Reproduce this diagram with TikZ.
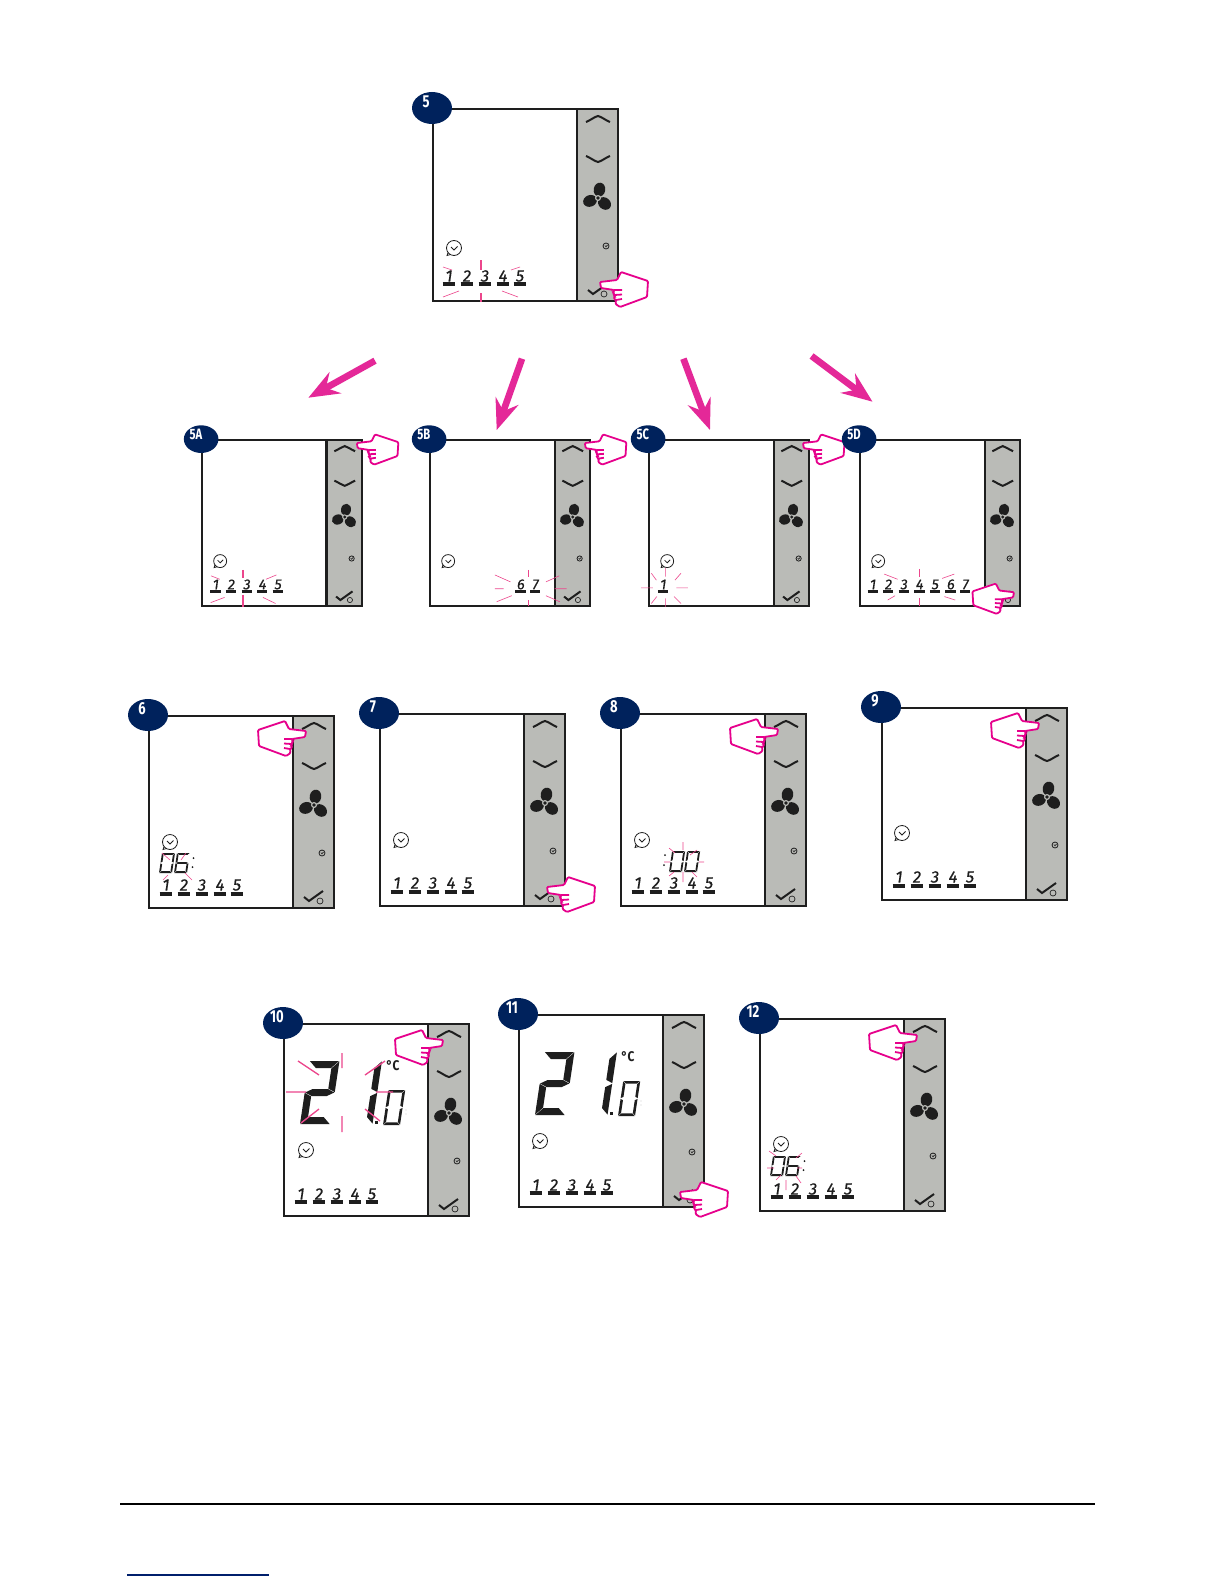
\documentclass[tikz,border=0pt]{standalone}
\usepackage{fontspec}
\setmainfont{Fira Sans}
\newfontfamily\dayfont[ItalicFont={Fira Sans Italic},ItalicFeatures={FakeBold=0.4}]{Fira Sans}
\usetikzlibrary{arrows.meta}
\definecolor{navyb}{RGB}{0,34,92}
\definecolor{side}{RGB}{186,187,183}
\definecolor{ink}{RGB}{30,30,30}
\definecolor{pinkm}{RGB}{230,0,140}
\definecolor{arrowpink}{RGB}{228,40,152}
\definecolor{rayc}{RGB}{236,70,140}
\tikzset{
  frame/.style={draw=ink,line width=1.6pt,fill=white},
  sidebar/.style={draw=ink,line width=1.6pt,fill=side},
  chev/.style={draw=ink,line width=1.5pt},
  thinicon/.style={draw=ink,line width=.45pt},
  badge/.style={fill=navyb},
  badgetext/.style={text=white,font=\bfseries\fontsize{13}{13}\selectfont,inner sep=0pt,transform shape,xscale=.75},
  daytext/.style={text=ink,font=\dayfont\itshape\fontsize{12.5}{13}\selectfont,inner sep=0pt,transform shape},
  dayline/.style={draw=ink,line width=2.4pt},
  ray/.style={draw=rayc,line width=.45pt},
  rayb/.style={draw=rayc,line width=1pt},
  handline/.style={draw=pinkm,line width=1.35pt,fill=white,line join=miter},
  flowarrow/.style={draw=arrowpink,line width=5pt,-{Stealth[length=23pt,width=18pt,inset=8pt]}},
  bigseg/.style={fill=ink},
  smallseg/.style={fill=ink},
}
% seven segment pieces
\def\segA{\path[\dsty] (\dg,-\dh)--(\dw-\dg,-\dh)--(\dw-\dt-\dg,-\dh+\dt)--(\dt+\dg,-\dh+\dt)--cycle;}
\def\segD{\path[\dsty] (\dg,0)--(\dw-\dg,0)--(\dw-\dt-\dg,-\dt)--(\dt+\dg,-\dt)--cycle;}
\def\segG{\path[\dsty] (\dg,-.5*\dh)--(\dt+\dg,-.5*\dh-.5*\dt)--(\dw-\dt-\dg,-.5*\dh-.5*\dt)--(\dw-\dg,-.5*\dh)--(\dw-\dt-\dg,-.5*\dh+.5*\dt)--(\dt+\dg,-.5*\dh+.5*\dt)--cycle;}
\def\segF{\path[\dsty] (0,-\dh+\dg)--(\dt,-\dh+\dt+\dg)--(\dt,-.5*\dh-.5*\dt-\dg)--(0,-.5*\dh-\dg)--cycle;}
\def\segE{\path[\dsty] (0,-\dg)--(\dt,-\dt-\dg)--(\dt,-.5*\dh+.5*\dt+\dg)--(0,-.5*\dh+\dg)--cycle;}
\def\segB{\path[\dsty] (\dw,-\dh+\dg)--(\dw-\dt,-\dh+\dt+\dg)--(\dw-\dt,-.5*\dh-.5*\dt-\dg)--(\dw,-.5*\dh-\dg)--cycle;}
\def\segC{\path[\dsty] (\dw,-\dg)--(\dw-\dt,-\dt-\dg)--(\dw-\dt,-.5*\dh+.5*\dt+\dg)--(\dw,-.5*\dh+\dg)--cycle;}
% style,x,ybottom,w,h,t,segments
\newcommand{\dseven}[7]{%
  \begin{scope}[shift={(#2,#3)},xslant=.15]
    \def\dsty{#1}\def\dw{#4}\def\dh{#5}\def\dt{#6}\def\dg{.4}
    \foreach \sg in {#7}{\csname seg\sg\endcsname}
  \end{scope}}
% dir, x, y of the fingertip, in panel coordinates
\newcommand{\handat}[3]{%
  \begin{scope}[shift={(#2,#3)},xscale=#1]
    \path[handline,rounded corners=.8pt] (0,0)--(17,-2)--(21,-10)--(48,-1)--(47,15)--(20,25)--(15.5,22)--(16,18)--(14,17)--(14.5,13)--(13.5,12)--(14,8)--(1,6)--cycle;
    \draw[handline,fill=none] (14,8)--(22,8) (14.5,13)--(22,12.5) (16,18)--(22,17);
  \end{scope}}
\newcommand{\clockicon}[2]{%
  \begin{scope}[shift={(#1,#2)}]
    \draw[thinicon,line width=.6pt] (0,0) circle [radius=7.5];
    \draw[thinicon,line width=.6pt] (-3,-1)--(0,2)--(3.5,-1.5);
    \draw[thinicon,line width=.6pt] (-6,4.5)--(-7,7.5)--(-3.5,6.5);
  \end{scope}}
\newcommand{\dayrow}[3]{%
  \edef\daylist{#3}%
  \foreach \xx/\ll in \daylist{%
    \node[daytext] (\pid-d\ll) at (\xx,#1) {\ll};
    \draw[dayline] (\xx-6.3,#2)--(\xx+5.7,#2);
  }}
% id, x, y, scale, label, extra contents
\newcommand{\panel}[6]{%
  \begin{scope}[shift={(#2,#3)},scale=#4]
    \def\pid{#1}
    \path[frame] (0,0) rectangle (185,192);
    \path[sidebar] (144,0) rectangle (185,192);
    \draw[chev] (153,13) .. controls (158,11) and (161,8) .. (165,7) .. controls (169,8) and (172,11) .. (177,13);
    \draw[chev] (153,47) .. controls (158,49) and (161,52) .. (165,53) .. controls (169,52) and (172,49) .. (177,47);
    \begin{scope}[shift={(165,89)}]
      \foreach \aa in {80,200,320}{\fill[ink,rotate=\aa] (8.5,0) ellipse [x radius=7,y radius=5.8];}
      \fill[side] (0,0) circle [radius=3];
      \fill[ink] (0,0) circle [radius=1.9];
    \end{scope}
    \draw[thinicon,line width=.6pt] (173,137) circle [radius=3];
    \draw[thinicon,line width=.5pt] (171.8,136.5)--(173,137.8)--(174.5,136);
    \draw[ink,line width=1.5pt] (155,181)--(160,185)--(174,175);
    \draw[thinicon,line width=.5pt] (171,185) circle [radius=3];
    \fill[badge] (-1,-1) ellipse [x radius=20,y radius=16];
    \node[badgetext] (#1-label) at (-7,-7) {#5};
    #6
  \end{scope}}
\newcommand{\sixclock}{%
  \dseven{smallseg}{10}{157}{13}{20}{1.8}{A,B,C,D,E,F}
  \dseven{smallseg}{25}{157}{13}{20}{1.8}{A,F,G,E,D,C}
  \fill[ink] (44.5,142) circle [radius=1] (43.5,151) circle [radius=1];}
\newcommand{\bigtemp}{%
  \dseven{bigseg}{16}{100}{30}{63}{7}{A,B,G,E,D}
  \dseven{bigseg}{82}{100}{6.5}{63}{6.5}{B,C}
  \fill[ink] (91,97) rectangle (94,100);
  \dseven{smallseg}{99}{101}{17}{35}{2.6}{A,B,C,D,E,F}
  \fill[ink!60] (122,86) circle [radius=.4] (122,90) circle [radius=.4];
  \node[text=ink,inner sep=0pt,transform shape,font=\bfseries\fontsize{10.5}{11}\selectfont,xscale=.85] (\pid-unit) at (109,42) {\textdegree C};}
\def\five{17/1,35/2,53/3,71/4,88/5}
\begin{document}
\begin{tikzpicture}[x=.75pt,y=-.75pt]
\useasboundingbox (0,0) rectangle (1224,1584);
\fill[white] (0,0) rectangle (1224,1584);

\panel{p5}{433}{109}{1}{5}{%
  \clockicon{21}{139}
  \dayrow{167}{175}{16/1,34/2,52/3,70/4,87/5}
  \draw[rayb] (48,151)--(48,161) (48,184)--(48,193);
  \draw[ray] (10,158)--(19,161) (78,161)--(87,158) (10,188)--(26,182) (69,182)--(85,188);
  \handat{1}{167}{173}}

\panel{p5A}{202}{440}{.865}{5A}{%
  \clockicon{21}{140}
  \dayrow{167}{175}{16/1,34/2,52/3,70/4,88/5}
  \draw[rayb] (47.4,150)--(47.4,159) (47.4,179)--(47.4,193);
  \draw[ray] (10.4,157)--(20.4,161) (74,161)--(86,156) (10,188)--(26,182) (70.5,182)--(85,189);
  \handat{1}{179}{3.5}}

\panel{p5B}{430}{440}{.865}{5B}{%
  \clockicon{21}{140}
  \dayrow{167}{175}{105/6,122/7}
  \draw[rayb] (113.7,150)--(113.7,158) (113.7,185)--(113.7,192);
  \draw[ray] (75,156)--(93,164) (134,164)--(149.5,157) (75,172)--(85,172) (144,172)--(158,172) (77,187)--(94.5,180) (134,180)--(150,187);
  \handat{1}{179}{3.5}}

\panel{p5C}{649}{440}{.865}{5C}{%
  \clockicon{21}{140}
  \dayrow{167}{175}{16.5/1}
  \draw[ray] (19,148)--(19,158) (19,183)--(19,193) (2.7,154)--(8.5,162) (37,154)--(30,162) (-9,171)--(4.6,171) (31.6,171)--(45,171) (2.7,189)--(9,181) (37,189)--(29,181);
  \handat{1}{178}{3.5}}

\panel{p5D}{860}{440}{.865}{5D}{%
  \clockicon{21}{140}
  \dayrow{167}{175}{15/1,33/2,51/3,69/4,87/5,105/6,122/7}
  \draw[rayb] (69,149)--(69,158) (69,183)--(69,192);
  \draw[ray] (28,155)--(43.5,161) (32,185)--(40.5,180) (95,160)--(109,155) (97.5,181)--(110,185);
  \handat{-1}{178}{176}}

\panel{p6}{149}{716}{1}{6}{%
  \clockicon{21}{126}
  \sixclock
  \draw[ray] (13,137)--(21,144) (37,137)--(32,144) (36,157)--(43,164) (14,164)--(19,159);
  \dayrow{169}{178}{\five}
  \handat{-1}{157}{15}}

\panel{p7}{380}{714}{1}{7}{%
  \clockicon{21}{126}
  \dayrow{169}{178}{\five}
  \handat{1}{167}{173}}

\panel{p8}{621}{714}{1}{8}{%
  \clockicon{21}{126}
  \dseven{smallseg}{48}{158}{13}{21}{1.8}{A,B,C,D,E,F}
  \dseven{smallseg}{63}{158}{13}{21}{1.8}{A,B,C,D,E,F}
  \fill[ink] (44,141) circle [radius=1] (43,151) circle [radius=1];
  \draw[ray] (48,134)--(54,139) (62,128)--(62,136) (76,136)--(69,141) (43,148)--(49,148) (78,148)--(83,148) (48,162)--(53,158) (62,158)--(62,168) (71,158)--(76,163);
  \dayrow{169}{178}{\five}
  \handat{-1}{157}{15}}

\panel{p9}{882}{708}{1}{9}{%
  \clockicon{20}{125}
  \dayrow{169}{178}{\five}
  \handat{-1}{157}{15}}

\panel{p10}{284}{1024}{1}{10}{%
  \bigtemp
  \draw[rayb] (14,37)--(35,51) (58,29)--(58,44) (81,51)--(101,37) (2,68)--(22,68) (92,68)--(109,68) (17,99)--(35,85) (58,92)--(58,108) (81,85)--(96,97);
  \clockicon{22}{126}
  \dayrow{170}{178}{\five}
  \handat{-1}{159}{16}}

\panel{p11}{519}{1015}{1}{11}{%
  \bigtemp
  \clockicon{21}{126}
  \dayrow{170}{178}{\five}
  \handat{1}{161}{177}}

\panel{p12}{760}{1019}{1}{12}{%
  \clockicon{21}{125}
  \sixclock
  \draw[ray] (9,132)--(16,137) (42,134)--(36,139) (7,149)--(14,149) (37,149)--(42,149) (16,161)--(21,156) (36,157)--(41,164) (26,161)--(26,171);
  \dayrow{170}{178}{\five}
  \handat{-1}{157}{16}}

\coordinate (a1s) at (375,360.7); \coordinate (a1e) at (308.4,397.7);
\coordinate (a2s) at (522,358.7); \coordinate (a2e) at (496.7,430);
\coordinate (a3s) at (683.4,358.7); \coordinate (a3e) at (710,430);
\coordinate (a4s) at (811.6,356); \coordinate (a4e) at (872.5,401.7);
\draw[flowarrow] (a1s)--(a1e);
\draw[flowarrow] (a2s)--(a2e);
\draw[flowarrow] (a3s)--(a3e);
\draw[flowarrow] (a4s)--(a4e);

\coordinate (r1) at (120,1504); \coordinate (r2) at (1095,1504);
\coordinate (b1) at (127,1575); \coordinate (b2) at (269,1575);
\draw[black,line width=.9pt] (r1)--(r2);
\draw[navyb!90!blue,line width=.9pt] (b1)--(b2);
\end{tikzpicture}
\end{document}
